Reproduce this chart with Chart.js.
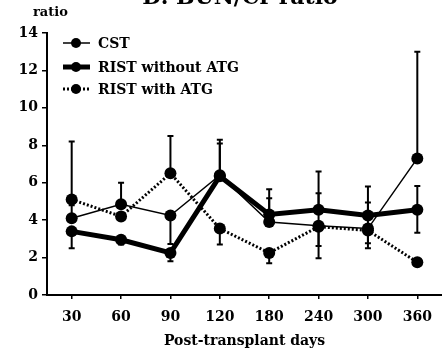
<!DOCTYPE html>
<html>
<head>
<meta charset="utf-8">
<script src="https://cdn.jsdelivr.net/npm/chart.js@4/dist/chart.umd.min.js"></script>
<style>
  html, body { margin: 0; padding: 0; background: #fff; }
  #wrap { width: 442px; height: 356px; }
</style>
</head>
<body>
<div id="wrap"><canvas id="chart"></canvas></div>
<script>
// x categories
var days = ['30', '60', '90', '120', '180', '240', '300', '360'];

// means
var cst       = [4.1, 4.85, 4.25, 6.4, 3.9, 3.7, 3.55, 7.3];
var ristNoAtg = [3.4, 2.95, 2.25, 6.35, 4.3, 4.55, 4.25, 4.55];
var ristAtg   = [5.1, 4.2, 6.5, 3.55, 2.25, 3.65, 3.45, 1.75];

// error bar ends (null = not drawn)
var cstHigh       = [4.8, 6.0, null, 8.1, 5.17, 5.44, 4.94, 13.0];
var cstLow        = [null, null, 2.73, null, null, 2.62, 2.76, null];
var ristNoAtgHigh = [null, null, null, 8.3, 5.65, 6.6, 5.8, 5.83];
var ristNoAtgLow  = [2.5, 2.7, 1.8, null, null, null, null, 3.33];
var ristAtgHigh   = [8.2, null, 8.5, null, null, null, null, null];
var ristAtgLow    = [null, null, null, 2.7, 1.7, 1.96, 2.5, null];

var serif = '"DejaVu Serif", serif';

// error bars, drawn under the points
var errorBars = {
    id: 'errorBars',
    beforeDatasetsDraw: function (chart) {
        var ctx = chart.ctx;
        var x = chart.scales.x, y = chart.scales.y;
        ctx.save();
        ctx.strokeStyle = '#000';
        ctx.lineWidth = 2;
        chart.data.datasets.forEach(function (ds) {
            for (var i = 0; i < ds.data.length; i++) {
                var px = x.getPixelForValue(i);
                var py = y.getPixelForValue(ds.data[i]);
                [ds.errHigh[i], ds.errLow[i]].forEach(function (end) {
                    if (end == null) return;
                    var pe = y.getPixelForValue(end);
                    ctx.beginPath();
                    ctx.moveTo(px, py);
                    ctx.lineTo(px, pe);
                    ctx.moveTo(px - 3, pe);
                    ctx.lineTo(px + 3, pe);
                    ctx.stroke();
                });
            }
        });
        ctx.restore();
    }
};

// legend + texts outside the plot
var extras = {
    id: 'extras',
    afterDraw: function (chart) {
        var ctx = chart.ctx;
        ctx.save();
        ctx.fillStyle = '#000';
        ctx.textBaseline = 'alphabetic';
        ctx.textAlign = 'center';
        ctx.font = 'bold 22px ' + serif;
        ctx.fillText('D. BUN/Cr ratio', 240, 4);
        ctx.textAlign = 'left';
        ctx.font = 'bold 13px ' + serif;
        ctx.fillText('ratio', 33, 16);

        var rows = [43, 67, 89];
        ctx.font = 'bold 14px ' + serif;
        ctx.textBaseline = 'middle';
        chart.data.datasets.forEach(function (ds, k) {
            var ly = rows[k];
            ctx.strokeStyle = '#000';
            ctx.lineWidth = ds.borderWidth;
            ctx.setLineDash(ds.borderDash || []);
            ctx.beginPath();
            ctx.moveTo(63, ly);
            ctx.lineTo(90, ly);
            ctx.stroke();
            ctx.setLineDash([]);
            ctx.beginPath();
            ctx.arc(76, ly, 5, 0, Math.PI * 2);
            ctx.fill();
            ctx.fillText(ds.label, 98, ly + 1);
        });
        ctx.restore();
    }
};

new Chart(document.getElementById('chart'), {
    type: 'line',
    data: {
        labels: days,
        datasets: [
            {
                label: 'CST',
                data: cst,
                errHigh: cstHigh,
                errLow: cstLow,
                borderColor: '#000',
                borderWidth: 1.5,
                pointBorderWidth: 0,
                order: 2
            },
            {
                label: 'RIST without ATG',
                data: ristNoAtg,
                errHigh: ristNoAtgHigh,
                errLow: ristNoAtgLow,
                borderColor: '#000',
                borderWidth: 5,
                pointBorderWidth: 0,
                order: 1
            },
            {
                label: 'RIST with ATG',
                data: ristAtg,
                errHigh: ristAtgHigh,
                errLow: ristAtgLow,
                borderColor: '#000',
                borderWidth: 3,
                borderDash: [2, 2],
                pointBorderWidth: 0,
                order: 3
            }
        ]
    },
    options: {
        responsive: true,
        maintainAspectRatio: false,
        animation: false,
        elements: {
            line: { tension: 0, fill: false },
            point: { radius: 6, backgroundColor: '#000', borderColor: '#000', borderWidth: 0 }
        },
        layout: { autoPadding: false, padding: { top: 33, right: 0, bottom: 0, left: 0 } },
        plugins: {
            legend: { display: false },
            tooltip: { enabled: false }
        },
        scales: {
            x: {
                offset: true,
                grid: { display: true, offset: false, drawOnChartArea: false, drawTicks: true, tickLength: 4, color: '#000', lineWidth: 1.5 },
                border: { display: true, color: '#000', width: 2 },
                ticks: { color: '#000', font: { family: serif, size: 14, weight: 'bold' }, padding: 10, maxRotation: 0 },
                title: { display: true, text: 'Post-transplant days', color: '#000', font: { family: serif, size: 14, weight: 'bold' }, padding: { top: 4, bottom: 6 } },
                afterFit: function (s) { s.height = 61; s.paddingLeft = 0; s.paddingRight = 0; }
            },
            y: {
                min: 0,
                max: 14,
                ticks: { stepSize: 2, color: '#000', font: { family: serif, size: 14, weight: 'bold' }, padding: 4 },
                grid: { display: true, drawOnChartArea: false, drawTicks: true, tickLength: 5, color: '#000', lineWidth: 1.5 },
                border: { display: true, color: '#000', width: 2 },
                afterFit: function (s) { s.width = 47; }
            }
        }
    },
    plugins: [errorBars, extras]
});
</script>
</body>
</html>
